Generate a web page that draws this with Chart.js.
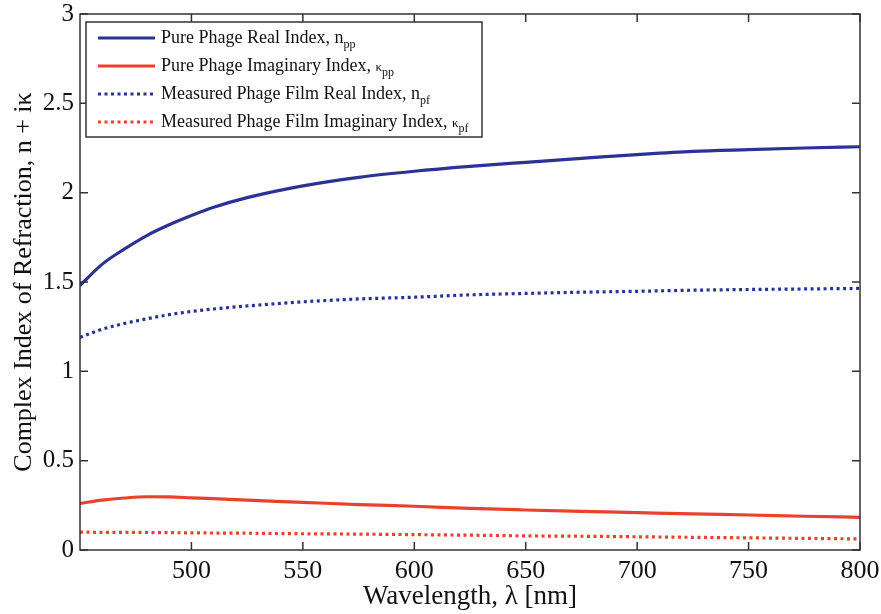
<!DOCTYPE html>
<html>
<head>
<meta charset="utf-8">
<script src="https://cdn.jsdelivr.net/npm/chart.js@4.4.1/dist/chart.umd.min.js"></script>
<style>
  html, body { margin: 0; padding: 0; background: #fff; }
  #wrap { width: 881px; height: 614px; }
</style>
</head>
<body>
<div id="wrap"><canvas id="indexChart"></canvas></div>
<script>
// wavelength grid (nm) shared by all four curves
var wavelengths = [450, 460, 470, 480, 490, 500, 510, 525, 550, 575, 600, 625, 650, 675, 700, 725, 750, 775, 800];
var nPurePhage  = [1.48, 1.60, 1.685, 1.76, 1.82, 1.872, 1.918, 1.972, 2.038, 2.086, 2.12, 2.147, 2.17, 2.192, 2.213, 2.231, 2.241, 2.25, 2.257];
var kPurePhage  = [0.261, 0.279, 0.291, 0.298, 0.297, 0.292, 0.287, 0.279, 0.267, 0.254, 0.245, 0.233, 0.224, 0.216, 0.209, 0.202, 0.196, 0.189, 0.183];
var nPhageFilm  = [1.19, 1.236, 1.268, 1.294, 1.317, 1.335, 1.349, 1.366, 1.389, 1.405, 1.415, 1.428, 1.436, 1.443, 1.448, 1.454, 1.458, 1.461, 1.464];
var kPhageFilm  = [0.100, 0.099, 0.099, 0.098, 0.097, 0.096, 0.095, 0.094, 0.091, 0.089, 0.086, 0.083, 0.079, 0.077, 0.074, 0.071, 0.068, 0.065, 0.062];

var xTicks = [500, 550, 600, 650, 700, 750, 800];
var yTicks = [0, 0.5, 1, 1.5, 2, 2.5, 3];

var legendEntries = [
  { text: 'Pure Phage Real Index, ', sym: 'n', sub: 'pp' },
  { text: 'Pure Phage Imaginary Index, ', sym: 'κ', sub: 'pp' },
  { text: 'Measured Phage Film Real Index, ', sym: 'n', sub: 'pf' },
  { text: 'Measured Phage Film Imaginary Index, ', sym: 'κ', sub: 'pf' }
];

var BLUE = '#2a3394';
var RED = '#e8422e';
var SERIF = '"Liberation Serif", "Times New Roman", serif';

function pairs(xs, ys) {
  return xs.map(function(x, i) { return { x: x, y: ys[i] }; });
}

function series(label, values, color, dotted) {
  return {
    label: label,
    data: pairs(wavelengths, values),
    borderColor: color,
    borderWidth: 3.2,
    borderDash: dotted ? [3, 3.5] : [],
    pointRadius: 0,
    cubicInterpolationMode: 'monotone',
    fill: false
  };
}

// box round the axes with inward ticks on all four sides
var framePlugin = {
  id: 'frame',
  afterDatasetsDraw: function(chart) {
    var ctx = chart.ctx, a = chart.chartArea;
    var xs = chart.scales.x, ys = chart.scales.y;
    ctx.save();
    ctx.strokeStyle = '#333';
    ctx.lineWidth = 1.5;
    ctx.strokeRect(a.left, a.top, a.right - a.left, a.bottom - a.top);
    ctx.beginPath();
    xTicks.forEach(function(v) {
      var px = xs.getPixelForValue(v);
      ctx.moveTo(px, a.bottom); ctx.lineTo(px, a.bottom - 8);
      ctx.moveTo(px, a.top); ctx.lineTo(px, a.top + 8);
    });
    yTicks.forEach(function(v) {
      var py = ys.getPixelForValue(v);
      ctx.moveTo(a.left, py); ctx.lineTo(a.left + 8, py);
      ctx.moveTo(a.right, py); ctx.lineTo(a.right - 8, py);
    });
    ctx.stroke();
    ctx.restore();
  }
};

// legend with subscripted symbols
var subLegendPlugin = {
  id: 'subLegend',
  afterDraw: function(chart) {
    var ctx = chart.ctx, a = chart.chartArea;
    var bx = a.left + 6, by = a.top + 8, bw = 396, bh = 115;
    ctx.save();
    ctx.fillStyle = '#fff';
    ctx.fillRect(bx, by, bw, bh);
    ctx.strokeStyle = '#333';
    ctx.lineWidth = 1.5;
    ctx.strokeRect(bx, by, bw, bh);

    legendEntries.forEach(function(e, i) {
      var ds = chart.data.datasets[i];
      var cy = by + 16 + i * 28;
      ctx.beginPath();
      ctx.strokeStyle = ds.borderColor;
      ctx.lineWidth = 3;
      ctx.setLineDash(ds.borderDash);
      ctx.moveTo(bx + 12, cy);
      ctx.lineTo(bx + 69, cy);
      ctx.stroke();
      ctx.setLineDash([]);

      ctx.fillStyle = '#111';
      ctx.textBaseline = 'alphabetic';
      var tx = bx + 75, base = cy + 5;
      ctx.font = '18px ' + SERIF;
      ctx.fillText(e.text, tx, base);
      tx += ctx.measureText(e.text).width;
      ctx.font = (e.sym === 'κ' ? '13px ' : '18px ') + SERIF;
      ctx.fillText(e.sym, tx, base);
      tx += ctx.measureText(e.sym).width;
      ctx.font = '12px ' + SERIF;
      ctx.fillText(e.sub, tx, base + 5);
    });
    ctx.restore();
  }
};

new Chart(document.getElementById('indexChart'), {
  type: 'line',
  data: {
    datasets: [
      series('Pure Phage Real Index', nPurePhage, BLUE, false),
      series('Pure Phage Imaginary Index', kPurePhage, RED, false),
      series('Measured Phage Film Real Index', nPhageFilm, BLUE, true),
      series('Measured Phage Film Imaginary Index', kPhageFilm, RED, true)
    ]
  },
  options: {
    responsive: true,
    maintainAspectRatio: false,
    animation: false,
    layout: { padding: { top: 14, right: 21, left: 0, bottom: 0 } },
    plugins: {
      legend: { display: false },
      tooltip: { enabled: false }
    },
    scales: {
      x: {
        type: 'linear',
        min: 450,
        max: 800,
        grid: { display: false, drawTicks: false },
        border: { display: false },
        afterBuildTicks: function(scale) {
          scale.ticks = xTicks.map(function(v) { return { value: v }; });
        },
        afterFit: function(scale) {
          scale.height = 64;
          scale.paddingLeft = 0;
          scale.paddingRight = 0;
        },
        ticks: {
          padding: 6,
          color: '#111',
          font: { family: SERIF, size: 26 },
          maxRotation: 0
        },
        title: {
          display: true,
          text: 'Wavelength, λ [nm]',
          color: '#111',
          font: { family: SERIF, size: 27 },
          padding: { top: 0, bottom: 1 }
        }
      },
      y: {
        min: 0,
        max: 3,
        grid: { display: false, drawTicks: false },
        border: { display: false },
        afterBuildTicks: function(scale) {
          scale.ticks = yTicks.map(function(v) { return { value: v }; });
        },
        afterFit: function(scale) {
          scale.width = 80;
          scale.paddingTop = 0;
          scale.paddingBottom = 0;
        },
        ticks: {
          padding: 6,
          color: '#111',
          font: { family: SERIF, size: 25 },
          callback: function(v) { return String(v); }
        },
        title: {
          display: true,
          text: 'Complex Index of Refraction, n + iκ',
          color: '#111',
          font: { family: SERIF, size: 26 },
          padding: { top: 9, bottom: 0 }
        }
      }
    }
  },
  plugins: [framePlugin, subLegendPlugin]
});
</script>
</body>
</html>
